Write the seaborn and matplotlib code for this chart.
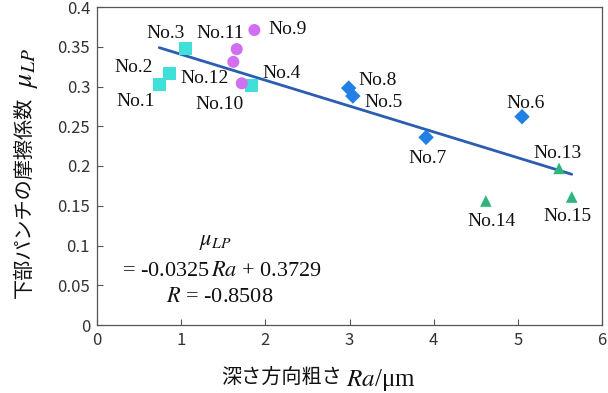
import matplotlib
matplotlib.use("Agg")
import matplotlib.pyplot as plt
import seaborn as sns
import numpy as np
import pandas as pd

# ---------------- data ----------------
labels = ["No.1", "No.2", "No.3", "No.4",
          "No.9", "No.11", "No.12", "No.10",
          "No.8", "No.5", "No.6", "No.7",
          "No.13", "No.14", "No.15"]
ra = [0.74, 0.86, 1.05, 1.84,
      1.87, 1.66, 1.62, 1.72,
      2.99, 3.04, 5.05, 3.91,
      5.49, 4.62, 5.64]
mu = [0.303, 0.316, 0.348, 0.301,
      0.371, 0.347, 0.331, 0.304,
      0.298, 0.288, 0.262, 0.236,
      0.197, 0.156, 0.161]
group = ["A", "A", "A", "A",
         "B", "B", "B", "B",
         "C", "C", "C", "C",
         "D", "D", "D"]
slope = -0.0325
intercept = 0.3729
r_value = -0.8508

x_ticks = [0, 1, 2, 3, 4, 5, 6]
y_ticks = [0, 0.05, 0.1, 0.15, 0.2, 0.25, 0.3, 0.35, 0.4]
y_ticklabels = ["0", "0.05", "0.1", "0.15", "0.2", "0.25", "0.3", "0.35", "0.4"]

# ---------------- style ----------------
sns.set_style("ticks")
plt.rcParams["font.family"] = ["Noto Sans CJK JP", "DejaVu Sans"]
plt.rcParams["mathtext.fontset"] = "stix"
plt.rcParams["xtick.direction"] = "in"
plt.rcParams["ytick.direction"] = "in"

palette = {"A": "#40E0DA", "B": "#D26EF0", "C": "#2080E4", "D": "#2EB57E"}
markers = {"A": "s", "B": "o", "C": "D", "D": "^"}
sizes = {"A": 85, "B": 75, "C": 62, "D": 70}

df = pd.DataFrame({"label": labels, "ra": ra, "mu": mu, "group": group})

fig = plt.figure(figsize=(6.08, 3.93), dpi=100)
ax = fig.add_axes([97 / 608, 1 - 325 / 393, (602 - 97) / 608, (325 - 7) / 393])

# regression line
xl = np.array([min(ra), max(ra)])
line_df = pd.DataFrame({"x": xl, "y": slope * xl + intercept})
sns.lineplot(data=line_df, x="x", y="y", ax=ax, color="#2B5DB0", linewidth=2.0, zorder=2)

for g in ["A", "B", "C", "D"]:
    sub = df[df["group"] == g]
    sns.scatterplot(data=sub, x="ra", y="mu", ax=ax, color=palette[g], marker=markers[g],
                    s=sizes[g], edgecolor="none", zorder=3, legend=False)

# point labels (offsets in pixels)
offsets = {"No.1": (-24, -17), "No.2": (-36, 6), "No.3": (-20, 15), "No.4": (30, 12),
           "No.9": (33, 1), "No.11": (-17, 16), "No.12": (-29, -17), "No.10": (-22, -21),
           "No.8": (29, 8), "No.5": (31, -6), "No.6": (4, 13), "No.7": (1, -21),
           "No.13": (-2, 15), "No.14": (6, -21), "No.15": (-4, -19)}
for lab, x, y in zip(labels, ra, mu):
    dx, dy = offsets[lab]
    ax.annotate(lab, (x, y), xytext=(dx, dy), textcoords="offset pixels",
                ha="center", va="center", fontsize=14, family="Liberation Serif",
                color="#111111")

ax.set_xlim(0, 6)
ax.set_ylim(0, 0.4)
ax.set_xticks(x_ticks)
ax.set_xticklabels([str(t) for t in x_ticks])
ax.set_yticks(y_ticks)
ax.set_yticklabels(y_ticklabels)
ax.tick_params(axis="both", labelsize=12, length=4, width=0.8, color="#555555",
               labelcolor="#333333", pad=5)
for sp in ax.spines.values():
    sp.set_visible(True)
    sp.set_color("#555555")
    sp.set_linewidth(0.9)
ax.set_xlabel("")
ax.set_ylabel("")

# equation block
eq_font = dict(family="Liberation Serif", fontsize=16, color="#111111", ha="center", va="center")
fig.text(215 / 608, 1 - 243 / 393, r"$\mu_{LP}$", **eq_font)
fig.text(222 / 608, 1 - 272 / 393, "= -0.0325$\,Ra$ + 0.3729", **eq_font)
fig.text(220 / 608, 1 - 298 / 393, "$R$ = -0.8508", **eq_font)

# x label
fig.text(342 / 608, 1 - 378 / 393, "深さ方向粗さ", ha="right", va="center", fontsize=14.5,
         color="#111111")
fig.text(346 / 608, 1 - 386 / 393, "$Ra$/μm", ha="left", va="baseline", fontsize=18,
         family="Liberation Serif", color="#111111")

# y label
fig.text(24 / 608, 1 - 197 / 393, "下部パンチの摩擦係数", rotation=90, ha="center", va="center",
         fontsize=14.5, color="#111111")
fig.text(25 / 608, 1 - 88 / 393, r"$\mu_{LP}$", rotation=90, ha="center", va="bottom",
         fontsize=20, color="#111111")

fig.savefig("out.png", dpi=100)
